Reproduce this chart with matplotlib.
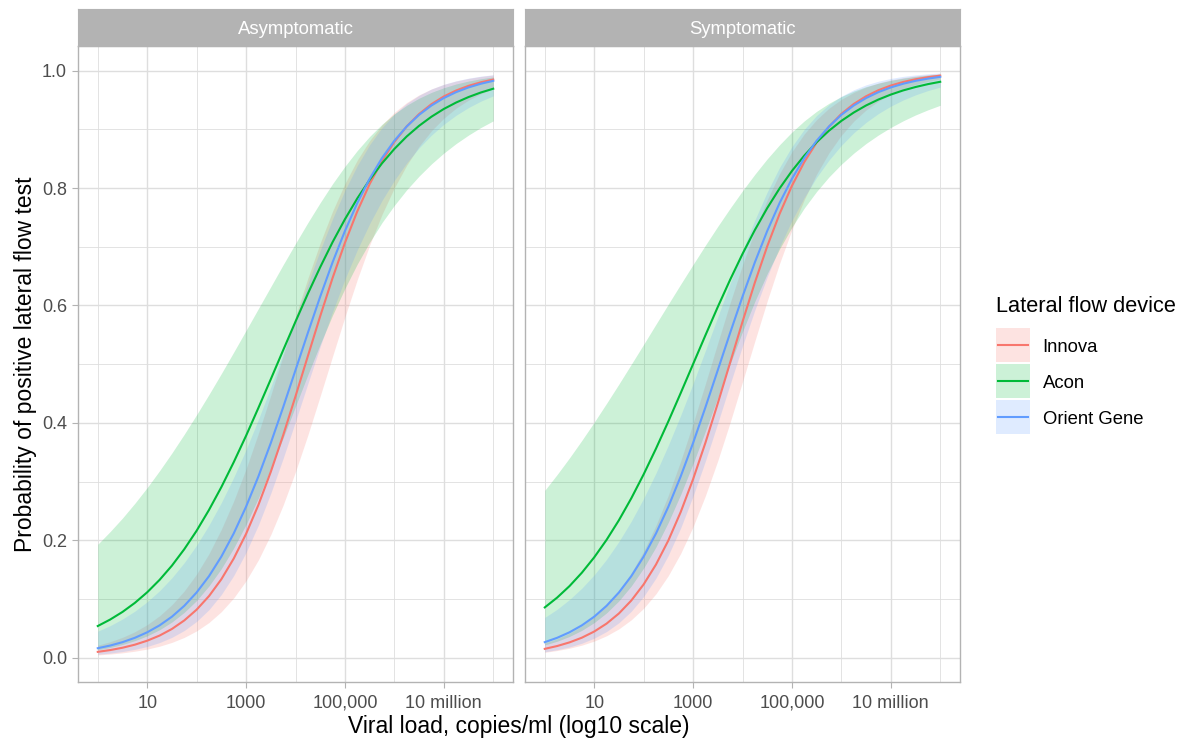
import numpy as np
import matplotlib.pyplot as plt
from matplotlib.patches import Rectangle
from matplotlib.lines import Line2D
from matplotlib.ticker import FixedLocator, NullFormatter

plt.rcParams['font.family'] = ['Liberation Sans', 'DejaVu Sans']

# ---- data ----
log10_load = [0.0, 0.25, 0.5, 0.75, 1.0, 1.25, 1.5, 1.75, 2.0, 2.25, 2.5, 2.75,
              3.0, 3.25, 3.5, 3.75, 4.0, 4.25, 4.5, 4.75, 5.0, 5.25, 5.5, 5.75,
              6.0, 6.25, 6.5, 6.75, 7.0, 7.25, 7.5, 7.75, 8.0]

panels = ['Asymptomatic', 'Symptomatic']
devices = ['Innova', 'Acon', 'Orient Gene']
colours = ['#F8766D', '#00BA38', '#619CFF']

x_tick_values = [10, 1e3, 1e5, 1e7]
x_tick_labels = ['10', '1000', '100,000', '10 million']
y_tick_values = [0.0, 0.2, 0.4, 0.6, 0.8, 1.0]
y_tick_labels = ['0.0', '0.2', '0.4', '0.6', '0.8', '1.0']

# Asymptomatic
asym_innova = [0.0098, 0.0128, 0.0168, 0.0220, 0.0288, 0.0375, 0.0488, 0.0633, 0.0817,
               0.1048, 0.1335, 0.1687, 0.2108, 0.2602, 0.3165, 0.3787, 0.4452, 0.5137,
               0.5818, 0.6468, 0.7068, 0.7604, 0.8069, 0.8462, 0.8787, 0.9051, 0.9262,
               0.9430, 0.9561, 0.9663, 0.9742, 0.9803, 0.9849]
asym_innova_lo = [0.0045, 0.0060, 0.0081, 0.0109, 0.0145, 0.0194, 0.0259, 0.0344, 0.0455,
                  0.0598, 0.0783, 0.1017, 0.1309, 0.1666, 0.2095, 0.2598, 0.3167, 0.3792,
                  0.4457, 0.5135, 0.5805, 0.6441, 0.7027, 0.7551, 0.8004, 0.8390, 0.8712,
                  0.8976, 0.9190, 0.9362, 0.9499, 0.9607, 0.9692]
asym_innova_hi = [0.0211, 0.0270, 0.0345, 0.0440, 0.0561, 0.0712, 0.0901, 0.1136, 0.1423,
                  0.1771, 0.2186, 0.2668, 0.3215, 0.3822, 0.4472, 0.5142, 0.5815, 0.6463,
                  0.7064, 0.7606, 0.8077, 0.8477, 0.8808, 0.9075, 0.9290, 0.9458, 0.9588,
                  0.9689, 0.9766, 0.9824, 0.9868, 0.9902, 0.9927]

asym_acon = [0.0538, 0.0648, 0.0778, 0.0932, 0.1113, 0.1324, 0.1567, 0.1847, 0.2162,
             0.2516, 0.2905, 0.3329, 0.3780, 0.4256, 0.4743, 0.5237, 0.5725, 0.6201,
             0.6653, 0.7079, 0.7469, 0.7824, 0.8141, 0.8422, 0.8667, 0.8880, 0.9061,
             0.9216, 0.9348, 0.9458, 0.9551, 0.9629, 0.9693]
asym_acon_lo = [0.0133, 0.0172, 0.0223, 0.0288, 0.0370, 0.0474, 0.0606, 0.0771, 0.0973,
                0.1221, 0.1516, 0.1866, 0.2267, 0.2721, 0.3215, 0.3740, 0.4280, 0.4820,
                0.5339, 0.5835, 0.6290, 0.6706, 0.7077, 0.7412, 0.7706, 0.7971, 0.8204,
                0.8412, 0.8596, 0.8759, 0.8903, 0.9032, 0.9145]
asym_acon_hi = [0.1931, 0.2147, 0.2378, 0.2629, 0.2897, 0.3184, 0.3487, 0.3806, 0.4139,
                0.4484, 0.4840, 0.5205, 0.5575, 0.5948, 0.6320, 0.6693, 0.7056, 0.7412,
                0.7752, 0.8074, 0.8370, 0.8640, 0.8880, 0.9087, 0.9264, 0.9411, 0.9532,
                0.9631, 0.9710, 0.9774, 0.9824, 0.9863, 0.9894]

asym_orient = [0.0160, 0.0205, 0.0263, 0.0337, 0.0431, 0.0549, 0.0697, 0.0882, 0.1110,
               0.1387, 0.1721, 0.2115, 0.2571, 0.3088, 0.3656, 0.4265, 0.4898, 0.5533,
               0.6151, 0.6735, 0.7269, 0.7745, 0.8159, 0.8512, 0.8807, 0.9050, 0.9248,
               0.9407, 0.9534, 0.9635, 0.9715, 0.9778, 0.9827]
asym_orient_lo = [0.0056, 0.0076, 0.0103, 0.0140, 0.0189, 0.0256, 0.0345, 0.0462, 0.0617,
                  0.0817, 0.1075, 0.1397, 0.1792, 0.2260, 0.2799, 0.3394, 0.4025, 0.4668,
                  0.5300, 0.5895, 0.6447, 0.6947, 0.7394, 0.7789, 0.8132, 0.8429, 0.8685,
                  0.8902, 0.9086, 0.9241, 0.9372, 0.9481, 0.9571]
asym_orient_hi = [0.0450, 0.0544, 0.0657, 0.0791, 0.0951, 0.1139, 0.1360, 0.1618, 0.1915,
                  0.2257, 0.2641, 0.3070, 0.3543, 0.4059, 0.4608, 0.5185, 0.5776, 0.6367,
                  0.6938, 0.7476, 0.7961, 0.8383, 0.8738, 0.9028, 0.9260, 0.9442, 0.9581,
                  0.9688, 0.9768, 0.9828, 0.9873, 0.9907, 0.9931]

# Symptomatic
symp_innova = [0.0149, 0.0197, 0.0259, 0.0339, 0.0444, 0.0579, 0.0752, 0.0972, 0.1247,
               0.1586, 0.1996, 0.2481, 0.3039, 0.3661, 0.4332, 0.5027, 0.5722, 0.6390,
               0.7008, 0.7560, 0.8039, 0.8444, 0.8777, 0.9047, 0.9264, 0.9433, 0.9565,
               0.9668, 0.9747, 0.9808, 0.9854, 0.9889, 0.9916]
symp_innova_lo = [0.0090, 0.0120, 0.0160, 0.0212, 0.0281, 0.0372, 0.0490, 0.0644, 0.0840,
                  0.1088, 0.1398, 0.1776, 0.2229, 0.2759, 0.3356, 0.4008, 0.4698, 0.5394,
                  0.6076, 0.6715, 0.7293, 0.7804, 0.8239, 0.8602, 0.8900, 0.9139, 0.9331,
                  0.9482, 0.9600, 0.9692, 0.9763, 0.9818, 0.9860]
symp_innova_hi = [0.0248, 0.0321, 0.0416, 0.0539, 0.0694, 0.0891, 0.1137, 0.1442, 0.1811,
                  0.2253, 0.2767, 0.3349, 0.3992, 0.4668, 0.5362, 0.6044, 0.6689, 0.7279,
                  0.7799, 0.8245, 0.8619, 0.8923, 0.9167, 0.9361, 0.9512, 0.9630, 0.9720,
                  0.9789, 0.9842, 0.9880, 0.9910, 0.9933, 0.9950]

symp_acon = [0.0855, 0.1022, 0.1218, 0.1446, 0.1708, 0.2006, 0.2341, 0.2714, 0.3122,
             0.3561, 0.4025, 0.4508, 0.5000, 0.5492, 0.5975, 0.6439, 0.6878, 0.7286,
             0.7659, 0.7994, 0.8292, 0.8554, 0.8782, 0.8978, 0.9145, 0.9287, 0.9408,
             0.9509, 0.9593, 0.9664, 0.9722, 0.9771, 0.9811]
symp_acon_lo = [0.0215, 0.0278, 0.0360, 0.0464, 0.0596, 0.0761, 0.0967, 0.1220, 0.1525,
                0.1886, 0.2306, 0.2780, 0.3303, 0.3858, 0.4430, 0.5002, 0.5553, 0.6070,
                0.6541, 0.6963, 0.7334, 0.7660, 0.7943, 0.8191, 0.8406, 0.8595, 0.8760,
                0.8905, 0.9033, 0.9146, 0.9246, 0.9333, 0.9411]
symp_acon_hi = [0.2850, 0.3119, 0.3403, 0.3701, 0.4011, 0.4332, 0.4661, 0.4998, 0.5337,
                0.5681, 0.6023, 0.6363, 0.6697, 0.7027, 0.7348, 0.7657, 0.7954, 0.8235,
                0.8498, 0.8738, 0.8955, 0.9145, 0.9308, 0.9445, 0.9559, 0.9653, 0.9728,
                0.9787, 0.9835, 0.9872, 0.9901, 0.9924, 0.9941]

symp_orient = [0.0263, 0.0337, 0.0431, 0.0549, 0.0697, 0.0882, 0.1110, 0.1387, 0.1721,
               0.2115, 0.2571, 0.3088, 0.3656, 0.4265, 0.4898, 0.5533, 0.6151, 0.6735,
               0.7269, 0.7745, 0.8159, 0.8512, 0.8807, 0.9050, 0.9248, 0.9407, 0.9534,
               0.9635, 0.9715, 0.9778, 0.9827, 0.9865, 0.9895]
symp_orient_lo = [0.0098, 0.0134, 0.0181, 0.0245, 0.0331, 0.0444, 0.0594, 0.0789, 0.1040,
                  0.1355, 0.1744, 0.2210, 0.2751, 0.3351, 0.3996, 0.4658, 0.5307, 0.5922,
                  0.6486, 0.6997, 0.7448, 0.7841, 0.8183, 0.8477, 0.8728, 0.8941, 0.9120,
                  0.9270, 0.9396, 0.9501, 0.9588, 0.9661, 0.9720]
symp_orient_hi = [0.0684, 0.0823, 0.0989, 0.1183, 0.1410, 0.1674, 0.1978, 0.2324, 0.2713,
                  0.3145, 0.3619, 0.4129, 0.4668, 0.5232, 0.5805, 0.6376, 0.6932, 0.7455,
                  0.7933, 0.8352, 0.8707, 0.9001, 0.9237, 0.9422, 0.9565, 0.9675, 0.9759,
                  0.9821, 0.9868, 0.9903, 0.9928, 0.9947, 0.9961]

curves = {
    'Asymptomatic': [(asym_innova, asym_innova_lo, asym_innova_hi),
                     (asym_acon, asym_acon_lo, asym_acon_hi),
                     (asym_orient, asym_orient_lo, asym_orient_hi)],
    'Symptomatic': [(symp_innova, symp_innova_lo, symp_innova_hi),
                    (symp_acon, symp_acon_lo, symp_acon_hi),
                    (symp_orient, symp_orient_lo, symp_orient_hi)],
}

viral_load = 10 ** np.array(log10_load)

# ---- layout in pixels ----
W, H = 1190, 740

def fx(px):
    return px / W

def fy(py):
    return 1 - py / H

GRID = '#DEDEDE'
BORDER = '#B3B3B3'
TEXT = '#4D4D4D'
LW = 1.5

panel_left = [78, 525]
panel_w = 435
panel_top, panel_bot = 45.7, 682.3
strip_top = 9

fig = plt.figure(figsize=(W / 100, H / 100), dpi=100)

for i, panel in enumerate(panels):
    ax = fig.add_axes([fx(panel_left[i]), fy(panel_bot), panel_w / W, (panel_bot - panel_top) / H])

    # ribbon then line for each device, in legend order
    for (mid, lo, hi), col in zip(curves[panel], colours):
        ax.fill_between(viral_load, lo, hi, color=col, alpha=0.2, linewidth=0)
        ax.plot(viral_load, mid, color=col, linewidth=LW)

    ax.set_xscale('log')
    ax.set_xlim(10 ** -0.4, 10 ** 8.4)
    ax.set_ylim(-0.0421, 1.0426)

    ax.xaxis.set_major_locator(FixedLocator(x_tick_values))
    ax.set_xticklabels(x_tick_labels)
    ax.xaxis.set_minor_locator(FixedLocator([1, 1e2, 1e4, 1e6, 1e8]))
    ax.xaxis.set_minor_formatter(NullFormatter())
    ax.yaxis.set_major_locator(FixedLocator(y_tick_values))
    ax.yaxis.set_minor_locator(FixedLocator([0.1, 0.3, 0.5, 0.7, 0.9]))
    ax.yaxis.set_minor_formatter(NullFormatter())

    ax.grid(which='major', color=GRID, linewidth=1.0)
    ax.grid(which='minor', color=GRID, linewidth=0.6)
    ax.set_axisbelow(True)

    for s in ax.spines.values():
        s.set_color(BORDER)
        s.set_linewidth(1.0)

    ax.tick_params(which='major', length=4, width=0.8, color=BORDER,
                   labelsize=13, labelcolor=TEXT)
    ax.tick_params(which='minor', length=0)
    ax.tick_params(axis='x', pad=5)
    ax.tick_params(axis='y', pad=4)

    if i == 0:
        ax.set_yticklabels(y_tick_labels)
    else:
        ax.tick_params(axis='y', which='both', left=False, labelleft=False)

    # facet strip
    sax = fig.add_axes([fx(panel_left[i]), fy(panel_top), panel_w / W, (panel_top - strip_top) / H])
    sax.set_facecolor(BORDER)
    sax.set_xticks([])
    sax.set_yticks([])
    for s in sax.spines.values():
        s.set_color(BORDER)
    fig.text(fx(panel_left[i] + panel_w / 2), fy(34), panel, ha='center', va='baseline',
             color='white', fontsize=13.3)

# axis titles
fig.text(fx(519), fy(733), 'Viral load, copies/ml (log10 scale)',
         ha='center', va='baseline', fontsize=16.5)
fig.text(fx(31.7), fy(364), 'Probability of positive lateral flow test',
         rotation=90, rotation_mode='anchor', ha='center', va='baseline', fontsize=16.5)

# legend
fig.text(fx(996), fy(311.7), 'Lateral flow device', ha='left', va='baseline', fontsize=15.7)
key_top = 328.3
for dev, col in zip(devices, colours):
    fig.patches.append(Rectangle((fx(996), fy(key_top + 34)), 34 / W, 34 / H,
                                 transform=fig.transFigure, facecolor=col, alpha=0.2,
                                 linewidth=0))
    fig.lines.append(Line2D([fx(998), fx(1028)], [fy(key_top + 17)] * 2,
                            transform=fig.transFigure, color=col, linewidth=LW))
    fig.text(fx(1042.7), fy(key_top + 23.5), dev, ha='left', va='baseline', fontsize=13.3)
    key_top += 36

fig.savefig('out.png', dpi=100)
